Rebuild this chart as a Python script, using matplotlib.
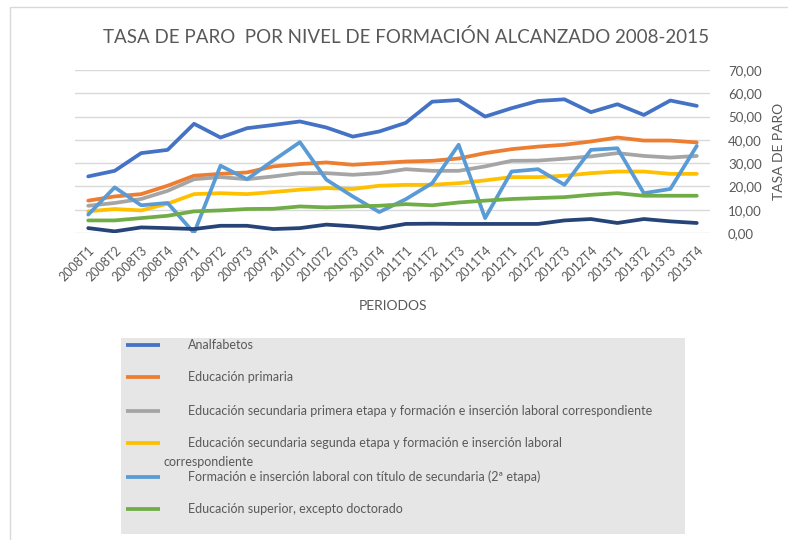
import matplotlib
matplotlib.use("Agg")
import matplotlib.pyplot as plt
from matplotlib.patches import Rectangle
from matplotlib.ticker import FuncFormatter

plt.rcParams["font.family"] = ["Lato", "DejaVu Sans"]

periodos = ["2008T1", "2008T2", "2008T3", "2008T4", "2009T1", "2009T2", "2009T3", "2009T4",
            "2010T1", "2010T2", "2010T3", "2010T4", "2011T1", "2011T2", "2011T3", "2011T4",
            "2012T1", "2012T2", "2012T3", "2012T4", "2013T1", "2013T2", "2013T3", "2013T4"]

analfabetos = [24.3, 26.7, 34.3, 35.7, 46.9, 41.0, 45.0, 46.4, 47.9, 45.3, 41.4, 43.6,
               47.3, 56.4, 57.1, 50.0, 53.6, 56.7, 57.4, 51.9, 55.3, 50.7, 56.9, 54.6]
primaria = [13.9, 15.7, 16.7, 20.3, 24.6, 25.4, 26.0, 28.6, 29.6, 30.3, 29.3, 30.0,
            30.7, 31.0, 32.0, 34.3, 36.0, 37.1, 37.9, 39.3, 41.0, 39.7, 39.7, 38.9]
sec_primera = [11.7, 12.9, 14.6, 18.1, 23.1, 24.0, 23.1, 24.3, 25.7, 25.7, 25.0, 25.7,
               27.4, 26.7, 26.7, 28.6, 31.0, 31.1, 31.9, 32.9, 34.3, 33.1, 32.4, 33.1]
sec_segunda = [9.3, 10.3, 9.7, 12.6, 16.7, 17.1, 16.7, 17.6, 18.6, 19.3, 18.9, 20.3,
               20.7, 20.7, 21.4, 22.6, 24.0, 24.0, 24.6, 25.7, 26.4, 26.4, 25.4, 25.4]
formacion = [7.9, 19.6, 11.9, 12.9, 0.0, 28.9, 23.1, 31.2, 39.0, 22.9, 15.7, 9.0,
             14.5, 21.4, 37.9, 6.4, 26.4, 27.4, 20.7, 35.7, 36.4, 17.1, 18.9, 37.4]
superior = [5.4, 5.4, 6.4, 7.4, 9.3, 9.7, 10.3, 10.4, 11.4, 11.0, 11.4, 11.7,
            12.4, 11.9, 13.1, 13.9, 14.6, 15.0, 15.4, 16.4, 17.1, 16.0, 16.0, 16.0]
doctorado = [2.1, 0.7, 2.4, 2.1, 1.7, 3.1, 3.1, 1.7, 2.1, 3.6, 2.9, 1.9,
             3.9, 4.0, 3.9, 3.9, 3.9, 3.9, 5.4, 6.0, 4.3, 6.0, 5.0, 4.3]

series = [analfabetos, primaria, sec_primera, sec_segunda, formacion, superior, doctorado]
colores = ["#4472C4", "#ED7D31", "#A5A5A5", "#FFC000", "#5B9BD5", "#70AD47", "#264478"]
etiquetas = ["Analfabetos",
             "Educación primaria",
             "Educación secundaria primera etapa y formación e inserción laboral correspondiente",
             "Educación secundaria segunda etapa y formación e inserción laboral",
             "Formación e inserción laboral con título de secundaria (2ª etapa)",
             "Educación superior, excepto doctorado"]

W, H = 788, 540
fig = plt.figure(figsize=(W / 100, H / 100), dpi=100)
fig.patch.set_facecolor("white")

# outer chart frame (partly cropped in the original)
fig.patches.append(Rectangle((10 / W, -0.1), 1.2, 1 - 7 / H + 0.1, transform=fig.transFigure,
                             fill=False, edgecolor="#d9d9d9", lw=1))

ax = fig.add_axes([75 / W, 1 - 233 / H, 635 / W, 163 / H])
x = range(len(periodos))
for vals, col in zip(series, colores):
    ax.plot(x, vals, color=col, lw=2.7, solid_capstyle="round", solid_joinstyle="round")

ax.set_xlim(-0.5, len(periodos) - 0.5)
ax.set_ylim(0, 70)
ax.set_yticks(range(0, 71, 10))
ax.yaxis.set_major_formatter(FuncFormatter(lambda v, p: f"{v:.2f}".replace(".", ",")))
ax.yaxis.tick_right()
ax.yaxis.set_label_position("right")
ax.grid(axis="y", color="#d9d9d9", lw=1)
ax.set_axisbelow(True)
for s in ax.spines.values():
    s.set_visible(False)
ax.tick_params(axis="y", length=0, pad=13, labelsize=9.5, labelcolor="#595959")
ax.set_xticks(list(x))
ax.set_xticklabels(periodos, rotation=45, ha="right", rotation_mode="anchor")
ax.tick_params(axis="x", length=0, pad=8, labelsize=9, labelcolor="#595959")
ax.set_ylabel("TASA DE PARO", fontsize=10, color="#595959", labelpad=8)
ax.set_xlabel("PERIODOS", fontsize=10, color="#595959", labelpad=12)

fig.text(406 / W, 1 - 37 / H, "TASA DE PARO  POR NIVEL DE FORMACIÓN ALCANZADO 2008-2015",
         ha="center", va="center", fontsize=13.5, color="#595959")

# legend box drawn by hand to copy the Excel overflow layout
lg = fig.add_axes([121 / W, 1 - 534 / H, 564 / W, 196 / H])
lg.set_facecolor("#e7e6e6")
lg.set_xlim(121, 685)
lg.set_ylim(534, 338)
lg.set_xticks([])
lg.set_yticks([])
for s in lg.spines.values():
    s.set_visible(False)
ys = [345, 377, 411, 443, 477, 509]
for yy, col, lab in zip(ys, colores, etiquetas):
    lg.plot([126, 160], [yy, yy], color=col, lw=2.7, solid_capstyle="butt")
    lg.text(188, yy, lab, va="center", ha="left", fontsize=9, color="#595959")
lg.text(163, 462, "correspondiente", va="center", ha="left", fontsize=9, color="#595959")

fig.savefig("out.png", dpi=100)
